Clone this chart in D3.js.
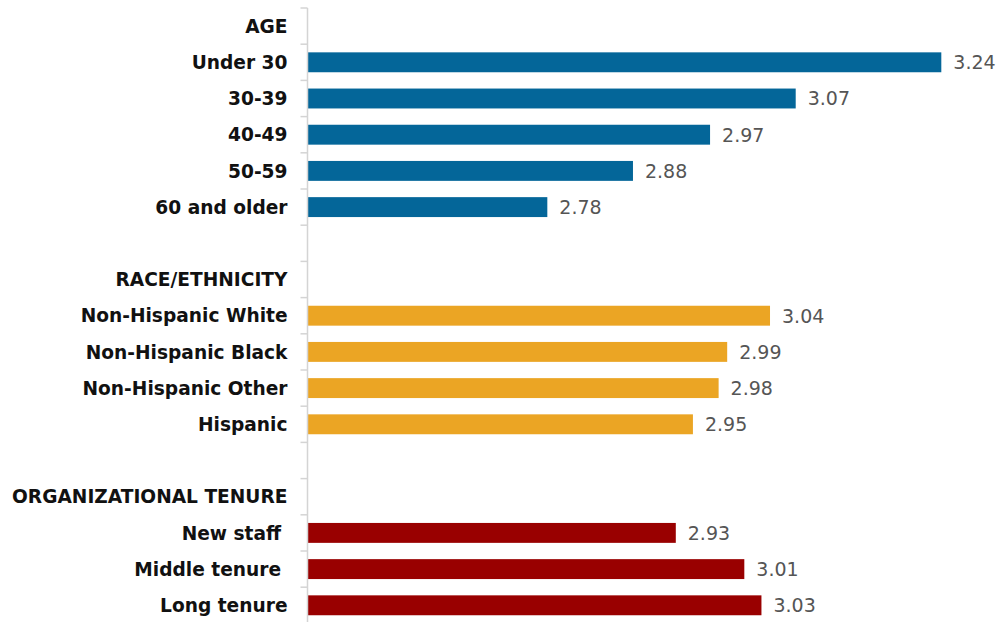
<!DOCTYPE html>
<html>
<head>
<meta charset="utf-8">
<script src="https://cdn.jsdelivr.net/npm/d3@7"></script>
<style>
  html, body { margin: 0; padding: 0; background: #fff; }
  svg { display: block; }
</style>
</head>
<body>
<svg id="chart" width="1000" height="622"></svg>
<script>
// Row labels, top to bottom; group headers and blank spacer rows included
const categories = [
  "AGE", "Under 30", "30-39", "40-49", "50-59", "60 and older", "",
  "RACE/ETHNICITY", "Non-Hispanic White", "Non-Hispanic Black", "Non-Hispanic Other", "Hispanic", " ",
  "ORGANIZATIONAL TENURE", "New staff ", "Middle tenure ", "Long tenure"
];
// Group of each row (null for headers and spacers)
const groups = [
  null, "age", "age", "age", "age", "age", null,
  null, "race", "race", "race", "race", null,
  null, "tenure", "tenure", "tenure"
];
// Mean scores (null where no bar is drawn)
const values = [
  null, 3.24, 3.07, 2.97, 2.88, 2.78, null,
  null, 3.04, 2.99, 2.98, 2.95, null,
  null, 2.93, 3.01, 3.03
];
const groupNames = ["age", "race", "tenure"];
const groupColors = ["#046699", "#EBA524", "#990000"];

const rows = categories.map((c, i) => ({ label: c, group: groups[i], value: values[i], key: i }));

const svg = d3.select("#chart");
const axisX = 307.5;
const plotTop = 8;
const bandH = 36.2;

const x = d3.scaleLinear().domain([2.5, 3.25]).range([axisX, axisX + 0.75 * 856.5]);
const y = d3.scaleBand()
  .domain(rows.map(r => r.key))
  .range([plotTop, plotTop + bandH * rows.length])
  .paddingInner(0.45).paddingOuter(0.225);
const color = d3.scaleOrdinal().domain(groupNames).range(groupColors);

// Bars
svg.append("g").selectAll("rect")
  .data(rows.filter(r => r.value != null))
  .join("rect")
  .attr("x", x(2.5))
  .attr("y", r => y(r.key))
  .attr("width", r => x(r.value) - x(2.5))
  .attr("height", y.bandwidth())
  .attr("fill", r => color(r.group));

// Value labels
svg.append("g").selectAll("text")
  .data(rows.filter(r => r.value != null))
  .join("text")
  .attr("x", r => x(r.value) + 12)
  .attr("y", r => y(r.key) + y.bandwidth() / 2)
  .attr("dy", "0.36em")
  .attr("font-family", "'DejaVu Sans', sans-serif")
  .attr("font-size", 19)
  .attr("fill", "#555")
  .text(r => r.value.toFixed(2));

// Category axis: vertical line with ticks on row boundaries
const axisG = svg.append("g");
const bounds = d3.range(rows.length + 1).map(i => plotTop + i * bandH);
axisG.append("line")
  .attr("x1", axisX).attr("x2", axisX)
  .attr("y1", plotTop).attr("y2", plotTop + bandH * rows.length)
  .attr("stroke", "#d4d4d4").attr("stroke-width", 1.5);
axisG.selectAll("line.tick")
  .data(bounds)
  .join("line")
  .attr("class", "tick")
  .attr("x1", axisX - 7).attr("x2", axisX)
  .attr("y1", d => d).attr("y2", d => d)
  .attr("stroke", "#d4d4d4").attr("stroke-width", 1.5);

// Category labels
svg.append("g").selectAll("text")
  .data(rows.filter(r => r.label.trim() !== ""))
  .join("text")
  .attr("x", axisX - 20)
  .attr("y", r => y(r.key) + y.bandwidth() / 2)
  .attr("dy", "0.36em")
  .attr("text-anchor", "end")
  .style("white-space", "pre")
  .attr("font-family", "'DejaVu Sans', sans-serif")
  .attr("font-weight", "bold")
  .attr("font-size", 18.6)
  .attr("fill", "#111")
  .text(r => r.label);
</script>
</body>
</html>
